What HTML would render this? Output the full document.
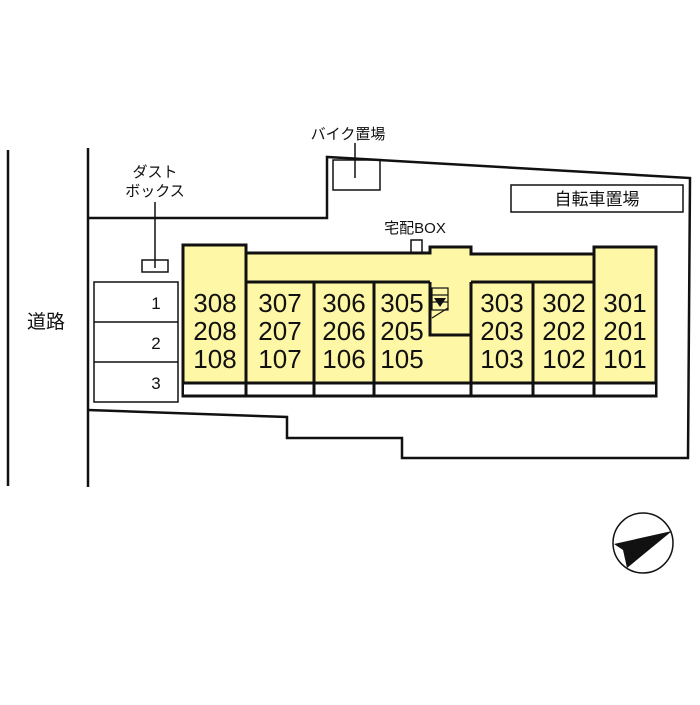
<!DOCTYPE html>
<html><head><meta charset="utf-8"><style>
body{margin:0;background:#fff;}
svg text{font-family:"Liberation Sans","Noto Sans CJK JP",sans-serif;fill:#111;}
</style></head><body>
<svg width="700" height="700" viewBox="0 0 700 700" xmlns="http://www.w3.org/2000/svg">
<g fill="none" stroke="#111" stroke-width="2.5">
<line x1="8" y1="150" x2="8" y2="486"/>
<polyline points="88,148 88,487"/>
<polyline points="88,218 327,218 327,157 690,178 688,458 402,458 402,438 287,438 287,417 88,410"/>
</g>
<g fill="none" stroke="#111" stroke-width="1.5">
<rect x="333" y="160" width="47" height="30"/>
<line x1="355" y1="143" x2="355" y2="178"/>
<rect x="142" y="260" width="26" height="12"/>
<line x1="155" y1="202" x2="155" y2="268"/>
<rect x="511" y="185" width="172" height="27"/>
<rect x="94" y="282" width="84" height="120"/>
<line x1="94" y1="322" x2="178" y2="322"/><line x1="94" y1="362" x2="178" y2="362"/>
<rect x="411" y="240" width="11" height="13"/>
</g>
<path d="M183,245 H246 V253 H430 V247 H471 V254 H594 V247 H656 V396 H183 Z" fill="#fdf7a6" stroke="#111" stroke-width="3"/>
<rect x="184" y="383" width="471" height="12" fill="#fff"/>
<g stroke="#111" stroke-width="3" fill="none">
<line x1="183" y1="383" x2="656" y2="383"/>
<line x1="183" y1="396" x2="656" y2="396"/>
<line x1="246" y1="253" x2="246" y2="396"/>
<line x1="246" y1="282" x2="430" y2="282"/>
<line x1="471" y1="282" x2="594" y2="282"/>
<line x1="594" y1="254" x2="594" y2="396"/>
<line x1="314" y1="282" x2="314" y2="396"/>
<line x1="374" y1="282" x2="374" y2="396"/>
<line x1="471" y1="282" x2="471" y2="396"/>
<line x1="533" y1="282" x2="533" y2="396"/>
<polyline points="430,282 430,335 471,335"/>
</g>
<g stroke="#111" stroke-width="1.2" fill="none">
<rect x="432" y="288" width="16" height="22"/>
<line x1="432" y1="295" x2="448" y2="295"/><line x1="432" y1="302" x2="448" y2="302"/>
<line x1="432" y1="318" x2="448" y2="308"/>
</g>
<polygon points="434,298 446,298 440,307" fill="#111"/>
<g font-size="26" text-anchor="middle">
<text x="215" y="312">308</text><text x="215" y="340">208</text><text x="215" y="368">108</text>
<text x="280" y="312">307</text><text x="280" y="340">207</text><text x="280" y="368">107</text>
<text x="344" y="312">306</text><text x="344" y="340">206</text><text x="344" y="368">106</text>
<text x="402" y="312">305</text><text x="402" y="340">205</text><text x="402" y="368">105</text>
<text x="502" y="312">303</text><text x="502" y="340">203</text><text x="502" y="368">103</text>
<text x="564" y="312">302</text><text x="564" y="340">202</text><text x="564" y="368">102</text>
<text x="625" y="312">301</text><text x="625" y="340">201</text><text x="625" y="368">101</text>
</g>
<g font-size="17" text-anchor="middle">
<text x="156" y="309">1</text><text x="156" y="349">2</text><text x="156" y="389">3</text>
</g>
<g font-size="15" text-anchor="middle">
<text x="348" y="139">バイク置場</text>
<text x="155" y="177">ダスト</text>
<text x="155" y="196">ボックス</text>
<text x="415" y="233">宅配BOX</text>
</g>
<text x="597" y="205" font-size="17" text-anchor="middle">自転車置場</text>
<text x="46" y="328" font-size="19" text-anchor="middle">道路</text>
<circle cx="643" cy="543" r="30" fill="none" stroke="#111" stroke-width="1.5"/>
<polygon points="614,544 672,531 627,568 623,550" fill="#111"/>
</svg>
</body></html>
